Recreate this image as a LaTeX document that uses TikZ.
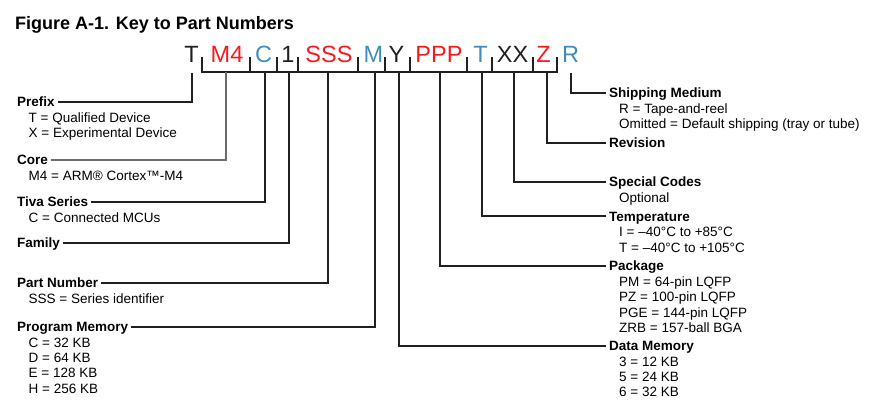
\documentclass[tikz,border=0pt]{standalone}
\usepackage{fontspec}
\setmainfont{Liberation Sans}
\definecolor{PartRed}{HTML}{F51A1F}
\definecolor{PartTeal}{HTML}{408DBA}
\definecolor{PartInk}{HTML}{231F20}
\usetikzlibrary{positioning}

\begin{document}
\begin{tikzpicture}[x=1pt, y=-1pt,
    pn/.style={anchor=base, inner sep=0pt, font=\fontsize{23.5}{26}\selectfont},
    head/.style={anchor=west, inner xsep=3pt, inner ysep=0pt,
                 text height=9.6pt, text depth=0pt,
                 font=\fontsize{13.5}{15.2}\selectfont\bfseries},
    desc/.style={anchor=north west, inner sep=0pt, align=left,
                 font=\fontsize{13.5}{15.2}\selectfont},
    lead/.style={draw=PartInk, line width=2pt}]
  \useasboundingbox (0,0) rectangle (881,411);

  \node[anchor=base west, inner sep=0pt, font=\fontsize{18}{20}\selectfont\bfseries]
    (title) at (15,30) {Figure A-1. Key to Part Numbers};

  % Part number characters
  \node[pn, text=PartInk]  (cT)   at (191.5,63) {T};
  \node[pn, text=PartRed]  (cM4)  at (227,63)   {M4};
  \node[pn, text=PartTeal] (cC)   at (263.5,63) {C};
  \node[pn, text=PartInk]  (c1)   at (288,63)   {1};
  \node[pn, text=PartRed]  (cSSS) at (329,63)   {SSS};
  \node[pn, text=PartTeal] (cM)   at (373.5,63) {M};
  \node[pn, text=PartInk]  (cY)   at (396.5,63) {Y};
  \node[pn, text=PartRed]  (cPPP) at (439,63)   {PPP};
  \node[pn, text=PartTeal] (cT2)  at (480.5,63) {T};
  \node[pn, text=PartInk]  (cXX)  at (512.5,63) {XX};
  \node[pn, text=PartRed]  (cZ)   at (543.5,63) {Z};
  \node[pn, text=PartTeal] (cR)   at (570.5,63) {R};

  % Bracket under the characters
  \draw[lead] (202,57) -- (202,72) -- (557,72) -- (557,57);
  \foreach \x in {250,277,298,358,385,410,467,492,533}
    \draw[lead] (\x,72) -- (\x,57);

  \coordinate (dT)   at (191.5,73);
  \coordinate (dM4)  at (226,72);
  \coordinate (dC)   at (264.5,72);
  \coordinate (d1)   at (288.5,72);
  \coordinate (dSSS) at (328,72);
  \coordinate (dM)   at (374.5,72);
  \coordinate (dY)   at (398.5,72);
  \coordinate (dPPP) at (440,72);
  \coordinate (dT2)  at (481.5,72);
  \coordinate (dXX)  at (513.5,72);
  \coordinate (dZ)   at (546.5,72);
  \coordinate (dR)   at (570.5,73);

  % Left keys
  \node[head] (prefix) at (14,102) {Prefix};
  \node[desc, below right=5.8pt and 14.5pt of prefix.south west] (prefix-d)
    {T = Qualified Device\\X = Experimental Device};
  \node[head] (core) at (14,160) {Core};
  \node[desc, below right=5.8pt and 14.5pt of core.south west] (core-d)
    {M4 = ARM® Cortex™-M4};
  \node[head] (tiva) at (14,202) {Tiva Series};
  \node[desc, below right=5.8pt and 14.5pt of tiva.south west] (tiva-d)
    {C = Connected MCUs};
  \node[head] (family) at (14,243) {Family};
  \node[head] (partno) at (14,283) {Part Number};
  \node[desc, below right=5.8pt and 14.5pt of partno.south west] (partno-d)
    {SSS = Series identifier};
  \node[head] (progmem) at (14,327) {Program Memory};
  \node[desc, below right=5.8pt and 14.5pt of progmem.south west] (progmem-d)
    {C = 32 KB\\D = 64 KB\\E = 128 KB\\H = 256 KB};

  \draw[lead] (prefix.east) -| (dT);
  \draw[lead, draw=gray!85!black, line width=1.3pt] (core.east) -| (dM4);
  \draw[lead] (tiva.east) -| (dC);
  \draw[lead] (family.east) -| (d1);
  \draw[lead] (partno.east) -| (dSSS);
  \draw[lead] (progmem.east) -| (dM);

  % Right keys
  \node[head] (ship) at (606,93) {Shipping Medium};
  \node[desc, below right=5.8pt and 13pt of ship.south west] (ship-d)
    {R = Tape-and-reel\\Omitted = Default shipping (tray or tube)};
  \node[head] (rev) at (606,143) {Revision};
  \node[head] (special) at (606,182) {Special Codes};
  \node[desc, below right=5.8pt and 13pt of special.south west] (special-d)
    {Optional};
  \node[head] (temp) at (606,216.5) {Temperature};
  \node[desc, below right=5.8pt and 13pt of temp.south west] (temp-d)
    {I = –40°C to +85°C\\T = –40°C to +105°C};
  \node[head] (package) at (606,266) {Package};
  \node[desc, below right=5.8pt and 13pt of package.south west] (package-d)
    {PM = 64-pin LQFP\\PZ = 100-pin LQFP\\PGE = 144-pin LQFP\\ZRB = 157-ball BGA};
  \node[head] (datamem) at (606,346) {Data Memory};
  \node[desc, below right=5.8pt and 13pt of datamem.south west] (datamem-d)
    {3 = 12 KB\\5 = 24 KB\\6 = 32 KB};

  \draw[lead] (ship.west) -| (dR);
  \draw[lead] (rev.west) -| (dZ);
  \draw[lead] (special.west) -| (dXX);
  \draw[lead] (temp.west) -| (dT2);
  \draw[lead] (package.west) -| (dPPP);
  \draw[lead] (datamem.west) -| (dY);
\end{tikzpicture}
\end{document}
